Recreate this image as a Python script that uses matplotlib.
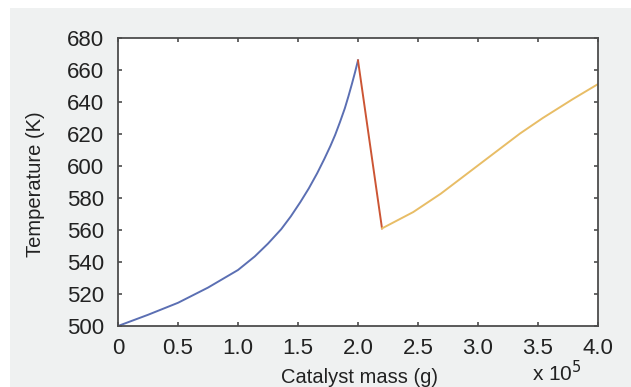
import matplotlib
matplotlib.use("Agg")
import matplotlib.pyplot as plt
from matplotlib.patches import Rectangle

plt.rcParams['font.family'] = ['Liberation Sans', 'DejaVu Sans']

# Catalyst mass in units of 1e5 g
bed1_mass = [0, 0.25, 0.5, 0.75, 1.0, 1.14, 1.25, 1.36, 1.44, 1.52, 1.59, 1.66,
             1.72, 1.77, 1.81, 1.85, 1.89, 1.92, 1.95, 1.975, 2.0]
bed1_temp = [500, 507, 514.5, 524, 535, 543.5, 551.5, 560.5, 568.5, 577.5, 586, 595.5,
             604.5, 612.5, 619.5, 627.5, 636, 643.5, 651.5, 658.5, 666]

cool_mass = [2.0, 2.2]
cool_temp = [666, 561]

bed2_mass = [2.2, 2.46, 2.69, 3.02, 3.35, 3.54, 3.79, 4.0]
bed2_temp = [561, 571.2, 582.7, 601.5, 620.3, 630, 641.8, 651.2]

xticks = [0, 0.5, 1.0, 1.5, 2.0, 2.5, 3.0, 3.5, 4.0]
xtick_labels = ['0', '0.5', '1.0', '1.5', '2.0', '2.5', '3.0', '3.5', '4.0']
yticks = [500, 520, 540, 560, 580, 600, 620, 640, 660, 680]

fig = plt.figure(figsize=(6.31, 3.87), dpi=100)
fig.patch.set_facecolor('white')
fig.patches.append(Rectangle((10/631, 0), 1 - 10/631, 1 - 8/387,
                             transform=fig.transFigure, facecolor='#eff1f1',
                             edgecolor='none', zorder=-10))

ax = fig.add_axes([118/631, 61/387, 480/631, 288/387])
ax.set_facecolor('white')

ax.plot(bed1_mass, bed1_temp, color='#5b6fb3', lw=1.4, solid_joinstyle='round')
ax.plot(cool_mass, cool_temp, color='#cc5534', lw=1.4)
ax.plot(bed2_mass, bed2_temp, color='#e8bd66', lw=1.4, solid_joinstyle='round')

ax.set_xlim(0, 4.0)
ax.set_ylim(500, 680)
ax.set_xticks(xticks)
ax.set_xticklabels(xtick_labels)
ax.set_yticks(yticks)

for s in ax.spines.values():
    s.set_color('#4d4d4d')
    s.set_linewidth(1.3)
ax.tick_params(direction='in', length=3, width=1.2, color='#4d4d4d',
               top=True, right=True, labelsize=16, labelcolor='#222222')
ax.tick_params(axis='y', pad=10)
ax.tick_params(axis='x', pad=9)

ax.set_xlabel('Catalyst mass (g)', fontsize=14.5, color='#222222')
ax.xaxis.set_label_coords(0.504, -0.145)
ax.set_ylabel('Temperature (K)', fontsize=14.5, color='#222222')
ax.yaxis.set_label_coords(-0.171, 0.493)
ax.yaxis.label.set_va('center')
fig.text(532/631, 6/387, r'x 10$^5$', fontsize=15, color='#222222', va='baseline')

fig.savefig('out.png', dpi=100, facecolor=fig.get_facecolor())
